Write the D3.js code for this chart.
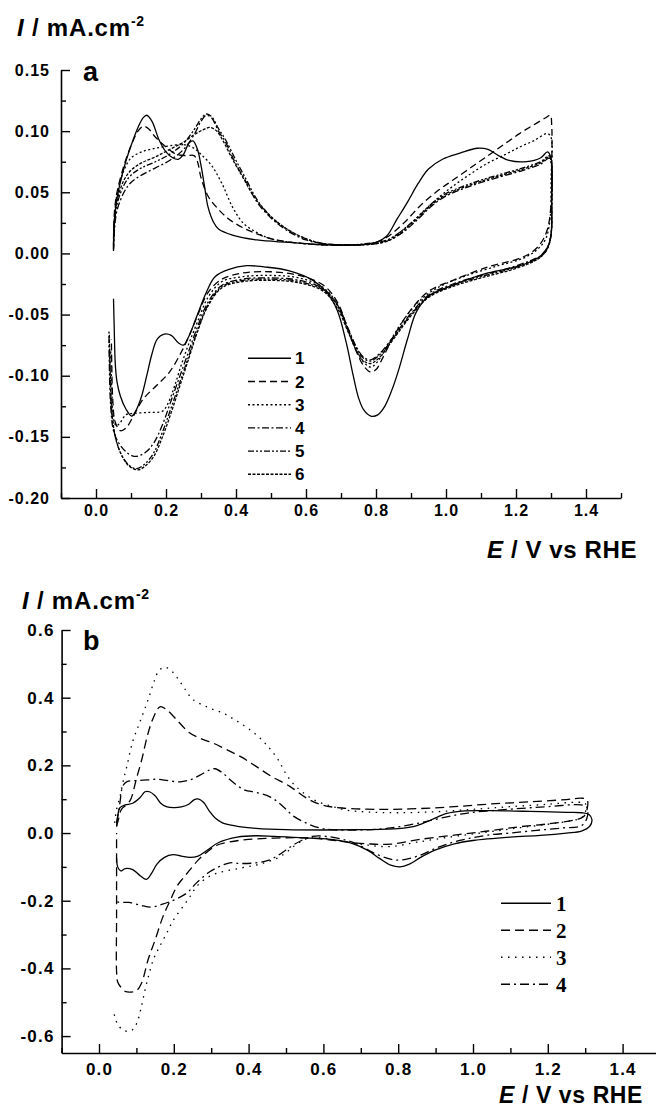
<!DOCTYPE html>
<html>
<head>
<meta charset="utf-8">
<script src="https://cdnjs.cloudflare.com/ajax/libs/d3/7.8.5/d3.min.js"></script>
<style>
    body { margin: 0; background: #fff; }
    svg text { font-family: "Liberation Sans", Arial, sans-serif; font-weight: bold; fill: #000; }
</style>
</head>
<body>
<svg id="chart" width="656" height="1109"></svg>
<script>

// ---- panel a : six voltammograms, [E (V vs RHE), I (mA/cm2)] ----
const aCurve1 = [[0.05,0.003],[0.052,0.025],[0.06,0.045],[0.08,0.070],[0.10,0.088],[0.12,0.103],[0.135,0.111],[0.145,0.113],[0.16,0.108],[0.18,0.093],[0.20,0.083],[0.22,0.078],[0.235,0.077],[0.25,0.081],[0.265,0.090],[0.277,0.092],[0.29,0.085],[0.30,0.072],[0.31,0.055],[0.32,0.038],[0.335,0.026],[0.35,0.020],[0.39,0.015],[0.46,0.011],[0.55,0.009],[0.65,0.007],[0.75,0.007],[0.80,0.009],[0.83,0.014],[0.86,0.028],[0.89,0.042],[0.92,0.057],[0.95,0.069],[0.99,0.077],[1.04,0.082],[1.09,0.086],[1.12,0.085],[1.15,0.080],[1.18,0.076],[1.23,0.075],[1.27,0.078],[1.29,0.083],[1.30,0.078],
    [1.302,0.04],[1.30,0.015],[1.29,0.005],[1.27,-0.002],[1.24,-0.007],[1.20,-0.011],[1.12,-0.016],[1.02,-0.026],[0.95,-0.035],[0.915,-0.048],[0.89,-0.07],[0.865,-0.095],[0.845,-0.112],[0.825,-0.125],[0.805,-0.132],[0.785,-0.133],[0.765,-0.128],[0.75,-0.118],[0.735,-0.100],[0.715,-0.073],[0.69,-0.047],[0.66,-0.032],[0.62,-0.022],[0.55,-0.014],[0.48,-0.011],[0.43,-0.010],[0.38,-0.013],[0.34,-0.019],[0.315,-0.032],[0.29,-0.050],[0.265,-0.068],[0.25,-0.075],[0.235,-0.073],[0.215,-0.067],[0.195,-0.066],[0.175,-0.070],[0.16,-0.082],[0.145,-0.100],[0.13,-0.117],[0.115,-0.128],[0.102,-0.133],[0.085,-0.127],[0.07,-0.117],[0.06,-0.105],[0.055,-0.09],[0.052,-0.06],[0.05,-0.037]];
const aCurve2 = [[0.05,0.012],[0.053,0.035],[0.06,0.05],[0.08,0.072],[0.10,0.088],[0.12,0.100],[0.135,0.104],[0.15,0.102],[0.17,0.095],[0.20,0.087],[0.23,0.081],[0.26,0.080],[0.28,0.080],[0.29,0.075],[0.30,0.062],[0.32,0.047],[0.35,0.036],[0.38,0.028],[0.42,0.021],[0.46,0.016],[0.50,0.012],[0.56,0.009],[0.65,0.007],[0.75,0.007],[0.80,0.009],[0.83,0.013],[0.88,0.025],[0.93,0.040],[0.98,0.052],[1.02,0.060],[1.07,0.070],[1.12,0.080],[1.17,0.090],[1.21,0.098],[1.25,0.105],[1.285,0.111],[1.298,0.113],[1.302,0.105],
    [1.302,0.07],[1.30,0.04],[1.29,0.02],[1.27,0.008],[1.24,0.0],[1.20,-0.005],[1.12,-0.011],[1.02,-0.022],[0.95,-0.031],[0.90,-0.046],[0.85,-0.068],[0.82,-0.085],[0.80,-0.095],[0.785,-0.097],[0.765,-0.092],[0.745,-0.081],[0.72,-0.062],[0.69,-0.04],[0.65,-0.026],[0.58,-0.018],[0.50,-0.015],[0.42,-0.016],[0.36,-0.021],[0.32,-0.032],[0.29,-0.051],[0.265,-0.068],[0.245,-0.08],[0.21,-0.097],[0.173,-0.108],[0.135,-0.119],[0.107,-0.133],[0.085,-0.143],[0.07,-0.145],[0.055,-0.138],[0.048,-0.12],[0.045,-0.09],[0.044,-0.07]];
const aCurve3 = [[0.05,0.008],[0.053,0.03],[0.06,0.048],[0.08,0.068],[0.10,0.078],[0.13,0.083],[0.17,0.086],[0.21,0.088],[0.25,0.089],[0.28,0.086],[0.30,0.081],[0.33,0.072],[0.36,0.057],[0.39,0.038],[0.42,0.025],[0.46,0.017],[0.50,0.012],[0.56,0.009],[0.65,0.007],[0.75,0.007],[0.80,0.008],[0.84,0.012],[0.89,0.022],[0.93,0.033],[0.98,0.046],[1.02,0.055],[1.07,0.065],[1.12,0.074],[1.17,0.081],[1.21,0.087],[1.25,0.092],[1.29,0.098],[1.30,0.095],
    [1.30,0.06],[1.298,0.03],[1.285,0.012],[1.26,0.003],[1.22,-0.004],[1.15,-0.010],[1.05,-0.019],[0.97,-0.029],[0.92,-0.04],[0.87,-0.058],[0.83,-0.077],[0.80,-0.09],[0.785,-0.093],[0.765,-0.089],[0.745,-0.08],[0.72,-0.063],[0.69,-0.042],[0.65,-0.028],[0.58,-0.02],[0.50,-0.018],[0.42,-0.019],[0.36,-0.023],[0.32,-0.036],[0.29,-0.056],[0.265,-0.074],[0.245,-0.09],[0.225,-0.108],[0.205,-0.123],[0.19,-0.129],[0.15,-0.130],[0.10,-0.131],[0.085,-0.132],[0.07,-0.138],[0.058,-0.141],[0.05,-0.135],[0.045,-0.11],[0.042,-0.08]];
const aCurve4 = [[0.05,0.002],[0.053,0.02],[0.06,0.035],[0.08,0.05],[0.10,0.058],[0.13,0.064],[0.17,0.070],[0.21,0.076],[0.25,0.085],[0.28,0.097],[0.30,0.108],[0.315,0.113],[0.33,0.111],[0.35,0.100],[0.37,0.091],[0.40,0.073],[0.43,0.058],[0.46,0.042],[0.50,0.029],[0.55,0.018],[0.60,0.011],[0.65,0.008],[0.72,0.007],[0.80,0.008],[0.84,0.011],[0.88,0.018],[0.92,0.028],[0.96,0.039],[1.0,0.047],[1.05,0.053],[1.10,0.058],[1.16,0.063],[1.22,0.068],[1.27,0.073],[1.295,0.078],[1.30,0.075],
    [1.302,0.04],[1.30,0.015],[1.29,0.005],[1.27,-0.002],[1.24,-0.006],[1.18,-0.012],[1.10,-0.018],[1.02,-0.025],[0.95,-0.034],[0.90,-0.049],[0.85,-0.068],[0.81,-0.082],[0.785,-0.087],[0.765,-0.085],[0.745,-0.077],[0.72,-0.061],[0.69,-0.042],[0.65,-0.029],[0.58,-0.022],[0.50,-0.020],[0.42,-0.021],[0.36,-0.026],[0.32,-0.040],[0.29,-0.060],[0.265,-0.08],[0.24,-0.100],[0.215,-0.12],[0.19,-0.14],[0.165,-0.155],[0.14,-0.163],[0.11,-0.166],[0.085,-0.162],[0.065,-0.155],[0.05,-0.145],[0.042,-0.125],[0.038,-0.09],[0.037,-0.063]];
const aCurve5 = [[0.05,0.004],[0.053,0.025],[0.06,0.04],[0.08,0.056],[0.10,0.064],[0.13,0.070],[0.17,0.075],[0.21,0.081],[0.25,0.09],[0.28,0.101],[0.30,0.110],[0.315,0.114],[0.33,0.112],[0.35,0.102],[0.37,0.093],[0.40,0.076],[0.43,0.060],[0.46,0.044],[0.50,0.030],[0.55,0.019],[0.60,0.012],[0.65,0.008],[0.72,0.007],[0.80,0.009],[0.84,0.012],[0.88,0.02],[0.92,0.03],[0.96,0.041],[1.0,0.049],[1.05,0.055],[1.10,0.060],[1.16,0.065],[1.22,0.070],[1.27,0.075],[1.295,0.080],[1.30,0.077],
    [1.302,0.04],[1.30,0.015],[1.29,0.004],[1.27,-0.003],[1.24,-0.007],[1.18,-0.013],[1.10,-0.019],[1.02,-0.026],[0.95,-0.035],[0.90,-0.05],[0.85,-0.069],[0.81,-0.083],[0.785,-0.088],[0.765,-0.086],[0.745,-0.078],[0.72,-0.062],[0.69,-0.043],[0.65,-0.03],[0.58,-0.023],[0.50,-0.021],[0.42,-0.022],[0.36,-0.027],[0.32,-0.042],[0.29,-0.063],[0.265,-0.084],[0.24,-0.105],[0.215,-0.126],[0.19,-0.146],[0.165,-0.163],[0.14,-0.172],[0.115,-0.176],[0.09,-0.172],[0.07,-0.163],[0.055,-0.15],[0.045,-0.13],[0.04,-0.1],[0.038,-0.07]];
const aCurve6 = [[0.05,0.006],[0.053,0.028],[0.06,0.043],[0.08,0.06],[0.10,0.068],[0.13,0.074],[0.17,0.079],[0.21,0.085],[0.25,0.091],[0.28,0.097],[0.305,0.101],[0.325,0.103],[0.345,0.100],[0.365,0.091],[0.39,0.077],[0.42,0.062],[0.45,0.047],[0.49,0.033],[0.54,0.021],[0.60,0.012],[0.65,0.008],[0.72,0.007],[0.80,0.008],[0.84,0.011],[0.88,0.019],[0.92,0.029],[0.96,0.040],[1.0,0.048],[1.05,0.054],[1.10,0.059],[1.16,0.064],[1.22,0.069],[1.27,0.074],[1.295,0.079],[1.30,0.076],
    [1.302,0.04],[1.30,0.015],[1.29,0.004],[1.27,-0.003],[1.24,-0.008],[1.18,-0.014],[1.10,-0.02],[1.02,-0.027],[0.95,-0.036],[0.90,-0.051],[0.85,-0.07],[0.81,-0.085],[0.785,-0.09],[0.765,-0.088],[0.745,-0.08],[0.72,-0.064],[0.69,-0.045],[0.65,-0.031],[0.58,-0.024],[0.50,-0.022],[0.42,-0.023],[0.36,-0.028],[0.32,-0.043],[0.29,-0.064],[0.265,-0.086],[0.24,-0.108],[0.215,-0.13],[0.19,-0.15],[0.165,-0.166],[0.14,-0.174],[0.12,-0.177],[0.095,-0.174],[0.075,-0.166],[0.058,-0.153],[0.047,-0.135],[0.041,-0.1],[0.038,-0.065]];

// ---- panel b : four voltammograms ----
const bCurve1 = [[0.047,0.019],[0.05,0.05],[0.056,0.075],[0.07,0.083],[0.09,0.088],[0.11,0.105],[0.123,0.122],[0.135,0.122],[0.15,0.11],[0.165,0.088],[0.18,0.078],[0.20,0.075],[0.22,0.077],[0.24,0.085],[0.255,0.099],[0.265,0.101],[0.28,0.090],[0.295,0.065],[0.31,0.045],[0.33,0.030],[0.37,0.020],[0.42,0.014],[0.50,0.010],[0.60,0.009],[0.70,0.010],[0.80,0.013],[0.85,0.022],[0.89,0.040],[0.93,0.058],[0.97,0.065],[1.05,0.066],[1.15,0.064],[1.25,0.061],[1.29,0.06],[1.31,0.055],[1.318,0.04],[1.312,0.02],
    [1.29,0.006],[1.25,0.0],[1.18,-0.007],[1.10,-0.012],[1.0,-0.022],[0.95,-0.032],[0.90,-0.05],[0.86,-0.072],[0.83,-0.092],[0.805,-0.10],[0.78,-0.095],[0.75,-0.075],[0.72,-0.052],[0.68,-0.032],[0.63,-0.02],[0.55,-0.014],[0.47,-0.01],[0.42,-0.008],[0.37,-0.012],[0.32,-0.028],[0.29,-0.05],[0.265,-0.068],[0.243,-0.072],[0.22,-0.068],[0.198,-0.064],[0.175,-0.072],[0.155,-0.092],[0.14,-0.12],[0.127,-0.137],[0.11,-0.126],[0.09,-0.108],[0.07,-0.105],[0.058,-0.112],[0.05,-0.1],[0.047,-0.074]];
const bCurve2 = [[0.047,0.02],[0.052,0.04],[0.06,0.07],[0.075,0.085],[0.085,0.10],[0.10,0.16],[0.115,0.22],[0.13,0.29],[0.145,0.34],[0.163,0.373],[0.18,0.365],[0.205,0.338],[0.24,0.298],[0.27,0.28],[0.305,0.266],[0.34,0.247],[0.38,0.225],[0.42,0.197],[0.46,0.168],[0.51,0.138],[0.56,0.100],[0.60,0.082],[0.65,0.074],[0.75,0.07],[0.85,0.072],[0.95,0.078],[1.05,0.086],[1.15,0.092],[1.25,0.099],[1.29,0.103],[1.305,0.098],
    [1.305,0.07],[1.295,0.048],[1.27,0.038],[1.20,0.027],[1.12,0.018],[1.04,0.006],[0.95,-0.006],[0.85,-0.02],[0.78,-0.033],[0.72,-0.032],[0.66,-0.026],[0.60,-0.018],[0.54,-0.014],[0.47,-0.015],[0.40,-0.019],[0.35,-0.026],[0.315,-0.036],[0.29,-0.055],[0.265,-0.08],[0.243,-0.109],[0.225,-0.133],[0.208,-0.158],[0.19,-0.2],[0.171,-0.247],[0.15,-0.316],[0.131,-0.375],[0.114,-0.443],[0.10,-0.466],[0.085,-0.47],[0.07,-0.468],[0.058,-0.455],[0.05,-0.44],[0.047,-0.41],[0.047,-0.25],[0.047,-0.1],[0.047,0.0]];
const bCurve3 = [[0.042,0.03],[0.047,0.07],[0.056,0.107],[0.064,0.15],[0.075,0.2],[0.09,0.27],[0.11,0.33],[0.131,0.393],[0.148,0.45],[0.16,0.48],[0.177,0.49],[0.195,0.478],[0.21,0.458],[0.23,0.425],[0.251,0.395],[0.29,0.372],[0.332,0.354],[0.37,0.33],[0.41,0.30],[0.44,0.27],[0.46,0.245],[0.48,0.215],[0.50,0.175],[0.52,0.145],[0.545,0.12],[0.58,0.095],[0.62,0.08],[0.66,0.068],[0.72,0.062],[0.80,0.060],[0.90,0.063],[1.0,0.07],[1.10,0.078],[1.20,0.085],[1.28,0.091],[1.30,0.088],
    [1.30,0.06],[1.29,0.045],[1.26,0.036],[1.20,0.026],[1.12,0.015],[1.04,0.003],[0.95,-0.01],[0.85,-0.027],[0.78,-0.04],[0.72,-0.036],[0.66,-0.026],[0.60,-0.015],[0.56,-0.016],[0.546,-0.021],[0.52,-0.04],[0.50,-0.058],[0.475,-0.075],[0.43,-0.092],[0.377,-0.104],[0.315,-0.119],[0.285,-0.135],[0.261,-0.158],[0.245,-0.185],[0.225,-0.217],[0.20,-0.255],[0.181,-0.296],[0.16,-0.34],[0.145,-0.375],[0.133,-0.42],[0.123,-0.464],[0.112,-0.52],[0.104,-0.553],[0.095,-0.575],[0.083,-0.586],[0.064,-0.582],[0.05,-0.565],[0.043,-0.545],[0.037,-0.52]];
const bCurve4 = [[0.047,0.03],[0.052,0.06],[0.056,0.09],[0.064,0.14],[0.075,0.152],[0.10,0.155],[0.13,0.157],[0.155,0.159],[0.185,0.155],[0.217,0.151],[0.245,0.158],[0.27,0.171],[0.295,0.186],[0.31,0.19],[0.33,0.178],[0.35,0.158],[0.37,0.14],[0.39,0.127],[0.42,0.12],[0.457,0.107],[0.48,0.09],[0.50,0.07],[0.52,0.05],[0.555,0.029],[0.59,0.015],[0.62,0.01],[0.70,0.009],[0.78,0.015],[0.858,0.03],[0.93,0.048],[0.99,0.06],[1.06,0.067],[1.13,0.073],[1.20,0.078],[1.29,0.083],[1.305,0.075],
    [1.305,0.045],[1.29,0.022],[1.24,0.015],[1.17,0.008],[1.10,0.0],[1.04,-0.006],[0.99,-0.016],[0.947,-0.027],[0.90,-0.045],[0.86,-0.065],[0.823,-0.077],[0.795,-0.08],[0.77,-0.074],[0.74,-0.062],[0.72,-0.05],[0.69,-0.033],[0.66,-0.021],[0.61,-0.01],[0.57,-0.01],[0.545,-0.02],[0.52,-0.035],[0.50,-0.05],[0.48,-0.065],[0.455,-0.08],[0.42,-0.088],[0.38,-0.09],[0.35,-0.088],[0.32,-0.10],[0.29,-0.119],[0.26,-0.148],[0.234,-0.178],[0.20,-0.198],[0.17,-0.21],[0.14,-0.219],[0.11,-0.213],[0.08,-0.205],[0.05,-0.203],[0.047,-0.19]];

// ticks and legend
const xMajorTicks = [0.0, 0.2, 0.4, 0.6, 0.8, 1.0, 1.2, 1.4];
const xMinorTicks = [-0.1, 0.1, 0.3, 0.5, 0.7, 0.9, 1.1, 1.3, 1.5];
const aYMajorTicks = [-0.20, -0.15, -0.10, -0.05, 0.00, 0.05, 0.10, 0.15];
const aYMinorTicks = [-0.175, -0.125, -0.075, -0.025, 0.025, 0.075, 0.125];
const bYMajorTicks = [-0.6, -0.4, -0.2, 0.0, 0.2, 0.4, 0.6];
const bYMinorTicks = [-0.5, -0.3, -0.1, 0.1, 0.3, 0.5];
const aLabels = ["1", "2", "3", "4", "5", "6"];
const bLabels = ["1", "2", "3", "4"];


/*
 * CvPanel - one voltammogram frame with its axes, curves and legend
 */
class CvPanel {

    constructor(_svg, _data, _labels, _config) {
        this.svg = _svg;
        this.data = _data;
        this.labels = _labels;
        this.config = _config;
        this.initVis();
    }

    initVis() {
        let vis = this;
        let c = vis.config;

        vis.x = d3.scaleLinear().domain([-0.1, 1.5]).range(c.xRange);
        vis.y = d3.scaleLinear().domain(c.yDomain).range(c.yRange);
        vis.g = vis.svg.append("g");

        // major + minor ticks, pointing inwards
        vis.g.append("g")
            .attr("class", "x-axis")
            .attr("transform", "translate(0," + c.yRange[0] + ")")
            .call(d3.axisBottom(vis.x).tickValues(xMajorTicks).tickSizeInner(-9).tickSizeOuter(0)
                .tickPadding(c.xPad).tickFormat(d => d.toFixed(1)));
        vis.g.append("g")
            .attr("transform", "translate(0," + c.yRange[0] + ")")
            .call(d3.axisBottom(vis.x).tickValues(xMinorTicks).tickSizeInner(-5).tickSizeOuter(0).tickFormat(""))
            .select(".domain").remove();

        vis.g.append("g")
            .attr("class", "y-axis")
            .attr("transform", "translate(" + c.xRange[0] + ",0)")
            .call(d3.axisLeft(vis.y).tickValues(c.yMajor).tickSizeInner(-9).tickSizeOuter(0)
                .tickPadding(c.yPad).tickFormat(d => d.toFixed(c.digits)));
        vis.g.append("g")
            .attr("transform", "translate(" + c.xRange[0] + ",0)")
            .call(d3.axisLeft(vis.y).tickValues(c.yMinor).tickSizeInner(-5).tickSizeOuter(0).tickFormat(""))
            .select(".domain").remove();

        vis.g.selectAll(".domain").attr("stroke", "#000").attr("stroke-width", 1.6);
        vis.g.selectAll(".tick line").attr("stroke", "#000").attr("stroke-width", 1.4);
        vis.g.selectAll(".tick text")
            .attr("font-family", null)
            .style("font-size", c.tickFont + "px")
            .style("letter-spacing", c.tickSpacing + "px");

        // titles
        let yt = vis.g.append("text")
            .attr("x", c.yTitle[0]).attr("y", c.yTitle[1])
            .style("font-size", "24px")
            .style("letter-spacing", "0.8px");
        yt.append("tspan").style("font-style", "italic").text("I");
        yt.append("tspan").text(" / mA.cm");
        yt.append("tspan").attr("dy", -10).style("font-size", "14px").text("-2");

        let xt = vis.g.append("text")
            .attr("x", c.xTitle[0]).attr("y", c.xTitle[1])
            .attr("text-anchor", "end")
            .style("font-size", c.xTitleFont + "px")
            .style("letter-spacing", "0.6px");
        xt.append("tspan").style("font-style", "italic").text("E");
        xt.append("tspan").text(" / V vs RHE");

        vis.g.append("text")
            .attr("x", c.letter[0]).attr("y", c.letter[1])
            .style("font-size", "27px")
            .text(c.name);

        vis.line = d3.line()
            .x(d => vis.x(d[0]))
            .y(d => vis.y(d[1]))
            .curve(d3.curveCatmullRom.alpha(0.5));

        vis.updateVis();
    }

    updateVis() {
        let vis = this;
        let c = vis.config;

        vis.g.selectAll(".cv")
            .data(vis.data)
            .join("path")
            .attr("class", "cv")
            .attr("d", vis.line)
            .attr("fill", "none")
            .attr("stroke", "#000")
            .attr("stroke-width", 1.3)
            .attr("stroke-dasharray", (d, i) => c.dashes[i]);

        // legend
        let rows = vis.g.selectAll(".legend")
            .data(vis.labels)
            .join("g")
            .attr("class", "legend")
            .attr("transform", (d, i) => "translate(0," + (c.legend.y + i * c.legend.step) + ")");
        rows.append("line")
            .attr("x1", c.legend.x1).attr("x2", c.legend.x2)
            .attr("stroke", "#000").attr("stroke-width", 1.4)
            .attr("stroke-dasharray", (d, i) => c.dashes[i]);
        rows.append("text")
            .attr("x", c.legend.tx).attr("y", c.legend.dy)
            .style("font-size", c.legend.font + "px")
            .style("font-family", c.legend.family)
            .text(d => d);
    }
}

let svg = d3.select("#chart");
svg.append("rect").attr("width", 656).attr("height", 1109).attr("fill", "#fff");

new CvPanel(svg, [aCurve1, aCurve2, aCurve3, aCurve4, aCurve5, aCurve6], aLabels, {
    name: "a",
    xRange: [61, 621], yDomain: [-0.2, 0.15], yRange: [498, 70],
    yMajor: aYMajorTicks, yMinor: aYMinorTicks, digits: 2,
    xPad: 7, yPad: 11, tickFont: 16, tickSpacing: 1,
    yTitle: [17, 36], xTitle: [637, 558], xTitleFont: 24, letter: [83, 81],
    dashes: [null, "7,4", "2,2.5", "7,2.5,2,2.5", "6,2,2,2,2,2", "3,1.5"],
    legend: { x1: 248, x2: 291, tx: 295, y: 358.3, step: 23.2, dy: 6, font: 17, family: null }
});

new CvPanel(svg, [bCurve1, bCurve2, bCurve3, bCurve4], bLabels, {
    name: "b",
    xRange: [61.6, 660], yDomain: [-0.65, 0.6], yRange: [1053, 630],
    yMajor: bYMajorTicks, yMinor: bYMinorTicks, digits: 1,
    xPad: 10, yPad: 7, tickFont: 17, tickSpacing: 1.2,
    yTitle: [22, 609], xTitle: [643, 1103], xTitleFont: 23, letter: [83, 650],
    dashes: [null, "9,5", "1.5,5.5", "9,4,2,4"],
    legend: { x1: 501, x2: 551, tx: 556, y: 903.3, step: 27, dy: 8, font: 21, family: "'Liberation Serif', 'Times New Roman', serif" }
});

</script>
</body>
</html>
